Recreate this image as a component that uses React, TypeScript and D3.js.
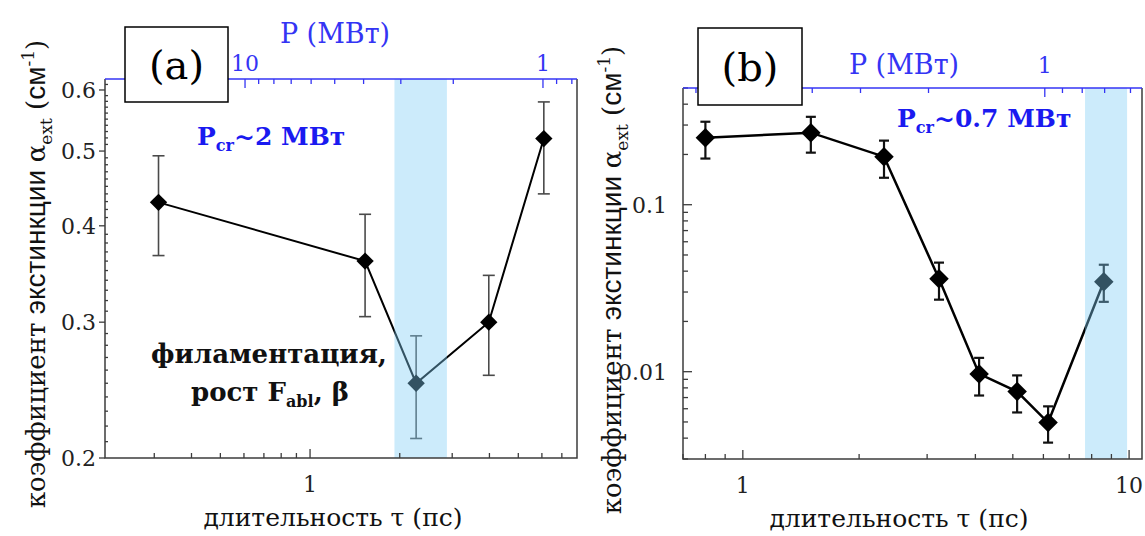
import React from 'react';
import * as d3 from 'd3';

// ---- panel (a): values ----
const tauA = [0.31, 1.53, 2.27, 3.98, 6.09];          // длительность τ, пс
const alphaA = [0.429, 0.36, 0.25, 0.3, 0.519];        // α_ext, см^-1
const alphaAHi = [0.493, 0.414, 0.288, 0.345, 0.579];
const alphaALo = [0.366, 0.305, 0.212, 0.256, 0.44];
const bandA = [1.92, 2.88];
const yTicksA = [0.2, 0.3, 0.4, 0.5, 0.6];
const xTicksA = [1];
const pTicksA = [10, 1];

// ---- panel (b) ----
const tauB = [0.8, 1.5, 2.32, 3.22, 4.09, 5.13, 6.17, 8.6];
const alphaB = [0.252, 0.27, 0.194, 0.036, 0.0097, 0.0076, 0.00496, 0.0346];
const alphaBHi = [0.314, 0.336, 0.242, 0.045, 0.0121, 0.0095, 0.0062, 0.0437];
const alphaBLo = [0.189, 0.205, 0.145, 0.027, 0.0072, 0.0057, 0.00376, 0.0262];
const bandB = [7.69, 9.88];
const yTicksB = [0.01, 0.1];
const xTicksB = [1, 10];
const pTicksB = [1];

// P (МВт) * τ (пс) – the top axis is the bottom one turned over
const P_TAU = 6.05;

const serif = '"DejaVu Serif"';
const sans = '"Liberation Sans"';
const bold = '"DejaVu Serif"';
const blue = '#3434f4';
const axisGray = '#3c3c3c';

const isMajor = (v, list) => list.some(m => Math.abs(m - v) < 1e-9);
const fmt = d3.format('~g');

const txt = (size, extra = {}) => ({ fontFamily: serif, fontSize: size + 'px', ...extra });

function Panel({ c }) {
  const x = d3.scaleLog().domain(c.xDomain).range([c.left, c.right]);
  const y = d3.scaleLog().domain(c.yDomain).range([c.bottom, c.top]);
  const p = d3.scaleLog()
    .domain([P_TAU / c.xDomain[0], P_TAU / c.xDomain[1]])
    .range([c.left, c.right]);
  const pts = c.tau.map((t, i) => ({ t, a: c.alpha[i], hi: c.hi[i], lo: c.lo[i] }));
  const line = d3.line().x(d => x(d.t)).y(d => y(d.a));
  const diamond = d3.symbol(d3.symbolSquare, c.marker)();

  const xMinor = x.ticks().filter(v => !isMajor(v, c.xTicks));
  const pMinor = p.ticks().filter(v => !isMajor(v, c.pTicks));
  const yMinor = c.yMinor || y.ticks().filter(v => !isMajor(v, c.yTicks));

  return (
    <g>
      {/* error bars */}
      <g stroke={c.errColor} strokeWidth={c.errWidth}>
        {pts.map((d, i) => (
          <g key={i}>
            <line x1={x(d.t)} x2={x(d.t)} y1={y(d.lo)} y2={y(d.hi)} />
            <line x1={x(d.t) - c.cap} x2={x(d.t) + c.cap} y1={y(d.lo)} y2={y(d.lo)} />
            <line x1={x(d.t) - c.cap} x2={x(d.t) + c.cap} y1={y(d.hi)} y2={y(d.hi)} />
          </g>
        ))}
      </g>

      <path d={line(pts)} fill="none" stroke="#000" strokeWidth={c.lineWidth} />
      {pts.map((d, i) => (
        <path key={i} d={diamond} fill="#000"
          transform={`translate(${x(d.t)},${y(d.a)}) rotate(45)`} />
      ))}

      {/* highlighted band, laid over the data */}
      <rect x={x(c.band[0])} y={c.top} width={x(c.band[1]) - x(c.band[0])}
        height={c.bottom - c.top} fill="rgb(128,206,245)" fillOpacity={0.4} />

      {/* bottom axis */}
      <g stroke={axisGray} strokeWidth={1.3}>
        {xMinor.map(v => <line key={v} x1={x(v)} x2={x(v)} y1={c.bottom} y2={c.bottom - 5} />)}
        {c.xTicks.map(v => <line key={v} x1={x(v)} x2={x(v)} y1={c.bottom} y2={c.bottom - 9} />)}
      </g>
      {c.xTicks.map(v => (
        <text key={v} x={x(v)} y={c.bottom + 34} textAnchor="middle" fill="#222" style={txt(22)}>
          {fmt(v)}
        </text>
      ))}

      {/* top axis, P (МВт) */}
      <g stroke={blue} strokeWidth={1.3}>
        {pMinor.map(v => <line key={v} x1={p(v)} x2={p(v)} y1={c.top} y2={c.top + 5} />)}
        {c.pTicks.map(v => <line key={v} x1={p(v)} x2={p(v)} y1={c.top} y2={c.top + 9} />)}
      </g>
      {c.pTicks.map(v => (
        <text key={v} x={p(v)} y={c.top - c.pPad} textAnchor="middle" fill={blue} style={txt(22)}>
          {fmt(v)}
        </text>
      ))}

      {/* left axis */}
      <g stroke={axisGray} strokeWidth={1.3}>
        {yMinor.map(v => <line key={v} x1={c.left} x2={c.left + c.yMinorLen} y1={y(v)} y2={y(v)} />)}
        {c.yTicks.map(v => <line key={v} x1={c.left} x2={c.left + c.yMajorLen} y1={y(v)} y2={y(v)} />)}
      </g>
      {c.yTicks.map(v => (
        <text key={v} x={c.left - c.yPad} y={y(v) + 8} textAnchor="end" fill="#222" style={txt(22)}>
          {fmt(v)}
        </text>
      ))}

      {/* frame */}
      <path d={`M${c.right},${c.top}V${c.bottom}H${c.left}V${c.top}`}
        fill="none" stroke={axisGray} strokeWidth={1.5} />
      <line x1={c.left} x2={c.right} y1={c.top} y2={c.top} stroke={blue} strokeWidth={1.6} />

      {/* panel tag */}
      <rect x={c.tag.x} y={c.tag.y} width={c.tag.w} height={c.tag.h}
        fill="#fff" stroke="#000" strokeWidth={1.5} />
      <text x={c.tag.x + c.tag.w / 2} y={c.tag.y + c.tag.h / 2 + 14} textAnchor="middle" style={txt(40)}>
        {c.tag.label}
      </text>

      {/* axis titles */}
      <text x={c.pTitle[0]} y={c.pTitle[1]} textAnchor="middle" fill={blue} style={txt(27)}>
        P (МВт)
      </text>
      <text x={c.xTitle[0]} y={c.xTitle[1]} textAnchor="middle" fill="#111" style={txt(25)}>
        длительность τ (пс)
      </text>
      <text transform={`translate(${c.yTitle[0]},${c.yTitle[1]}) rotate(-90)`}
        textAnchor="middle" fill="#111" style={txt(26)}>
        <tspan>коэффициент </tspan>
        <tspan style={{ fontFamily: sans, fontSize: '28px' }}>экстинкции </tspan>
        <tspan>α</tspan>
        <tspan dy={7} style={{ fontSize: '17px' }}>ext</tspan>
        <tspan dy={-7}> (</tspan>
        <tspan style={{ fontFamily: sans, fontSize: '28px' }}>см</tspan>
        <tspan dy={-11} style={{ fontSize: '17px' }}>-1</tspan>
        <tspan dy={11}>)</tspan>
      </text>

      {/* P_cr note */}
      <text x={c.pcr[0]} y={c.pcr[1]} fill="#1a1af0"
        style={{ fontFamily: bold, fontWeight: 'bold', fontSize: '25px' }}>
        <tspan>P</tspan>
        <tspan dy={6} style={{ fontSize: '16px' }}>cr</tspan>
        <tspan dy={-6}>{c.pcrText}</tspan>
      </text>
    </g>
  );
}

const panelA = {
  left: 105, right: 577, top: 79, bottom: 458,
  xDomain: [0.205, 7.87], yDomain: [0.2, 0.62],
  tau: tauA, alpha: alphaA, hi: alphaAHi, lo: alphaALo, band: bandA,
  xTicks: xTicksA, pTicks: pTicksA, yTicks: yTicksA,
  yMinor: d3.range(20, 62).map(k => k / 100).filter(v => !isMajor(v, yTicksA)),
  yMinorLen: 3, yMajorLen: -6, yPad: 9, pPad: 8,
  errColor: '#4a4a4a', errWidth: 1.6, cap: 6, lineWidth: 2, marker: 150,
  tag: { x: 125, y: 27, w: 103, h: 75, label: '(a)' },
  pTitle: [335, 43], xTitle: [333, 526], yTitle: [45, 274],
  pcr: [197, 145], pcrText: '~2 МВт',
};

const panelB = {
  left: 683, right: 1142, top: 88, bottom: 459,
  xDomain: [0.7, 10.8], yDomain: [0.003, 0.5],
  tau: tauB, alpha: alphaB, hi: alphaBHi, lo: alphaBLo, band: bandB,
  xTicks: xTicksB, pTicks: pTicksB, yTicks: yTicksB,
  yMinor: null, yMinorLen: 5, yMajorLen: 9, yPad: 16, pPad: 15,
  errColor: '#111', errWidth: 2.2, cap: 5, lineWidth: 2.5, marker: 190,
  tag: { x: 698, y: 28, w: 104, h: 77, label: '(b)' },
  pTitle: [904, 74], xTitle: [899, 527], yTitle: [621, 280],
  pcr: [897, 127], pcrText: '~0.7 МВт',
};

const boldText = { fontFamily: bold, fontWeight: 'bold', fontSize: '26px' };

export default function App() {
  return (
    <svg width={1145} height={536}
      style={{ position: 'absolute', left: 0, top: 0, background: '#fff' }}>
      <Panel c={panelA} />
      <Panel c={panelB} />

      {/* annotation in (a) */}
      <text x={269} y={363} textAnchor="middle" fill="#111" style={boldText}>
        филаментация,
      </text>
      <text x={270} y={401} textAnchor="middle" fill="#111" style={boldText}>
        <tspan>рост F</tspan>
        <tspan dy={6} style={{ fontSize: '16px' }}>abl</tspan>
        <tspan dy={-6}>, β</tspan>
      </text>
    </svg>
  );
}
